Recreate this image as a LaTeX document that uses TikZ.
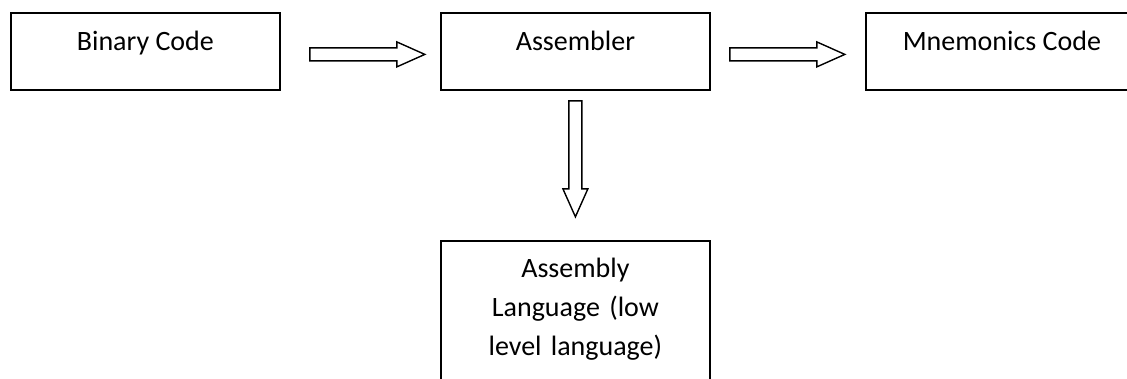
\documentclass[tikz,border=0pt]{standalone}
\usepackage{fontspec}
\setmainfont{Carlito}
\usetikzlibrary{calc}
\begin{document}
\begin{tikzpicture}[x=1pt,y=-1pt,
  box/.style={draw, line width=1.8pt, inner sep=0pt, minimum width=269pt,
    font=\fontsize{28}{39}\selectfont},
  toptext/.style={text height=38pt, text depth=39pt},
  blockarrow/.style={draw, line width=1.4pt, line join=miter, fill=white}]
\useasboundingbox (0,0) rectangle (1127,378);

% top row of boxes, text set near the top edge
\node[box, toptext, anchor=north west] (bin) at (10,12) {Binary Code};
\node[box, toptext, anchor=north west] (asm) at (440,12) {Assembler};
\node[box, toptext, anchor=north west, minimum width=272pt] (mne) at (865,12) {Mnemonics Code};

% lower box, running off the bottom edge
\node[box, anchor=north, align=center, text width=269pt,
      text height=37pt, text depth=150pt] (lang) at ($(asm.south)+(0,149)$)
  {Assembly\\Language (low\\level language)};

% hollow block arrows
\draw[blockarrow] ($(bin.east)+(29,-3.5)$) -- ++(87,0) -- ++(0,-6) -- ++(28,12.5)
  -- ++(-28,12.5) -- ++(0,-6) -- ++(-87,0) -- cycle;
\draw[blockarrow] ($(asm.east)+(19,-3.5)$) -- ++(87,0) -- ++(0,-6) -- ++(28,12.5)
  -- ++(-28,12.5) -- ++(0,-6) -- ++(-87,0) -- cycle;
\draw[blockarrow] ($(asm.south)+(-6.5,10)$) -- ++(0,88) -- ++(-6,0) -- ++(12.5,28)
  -- ++(12.5,-28) -- ++(-6,0) -- ++(0,-88) -- cycle;
\end{tikzpicture}
\end{document}
